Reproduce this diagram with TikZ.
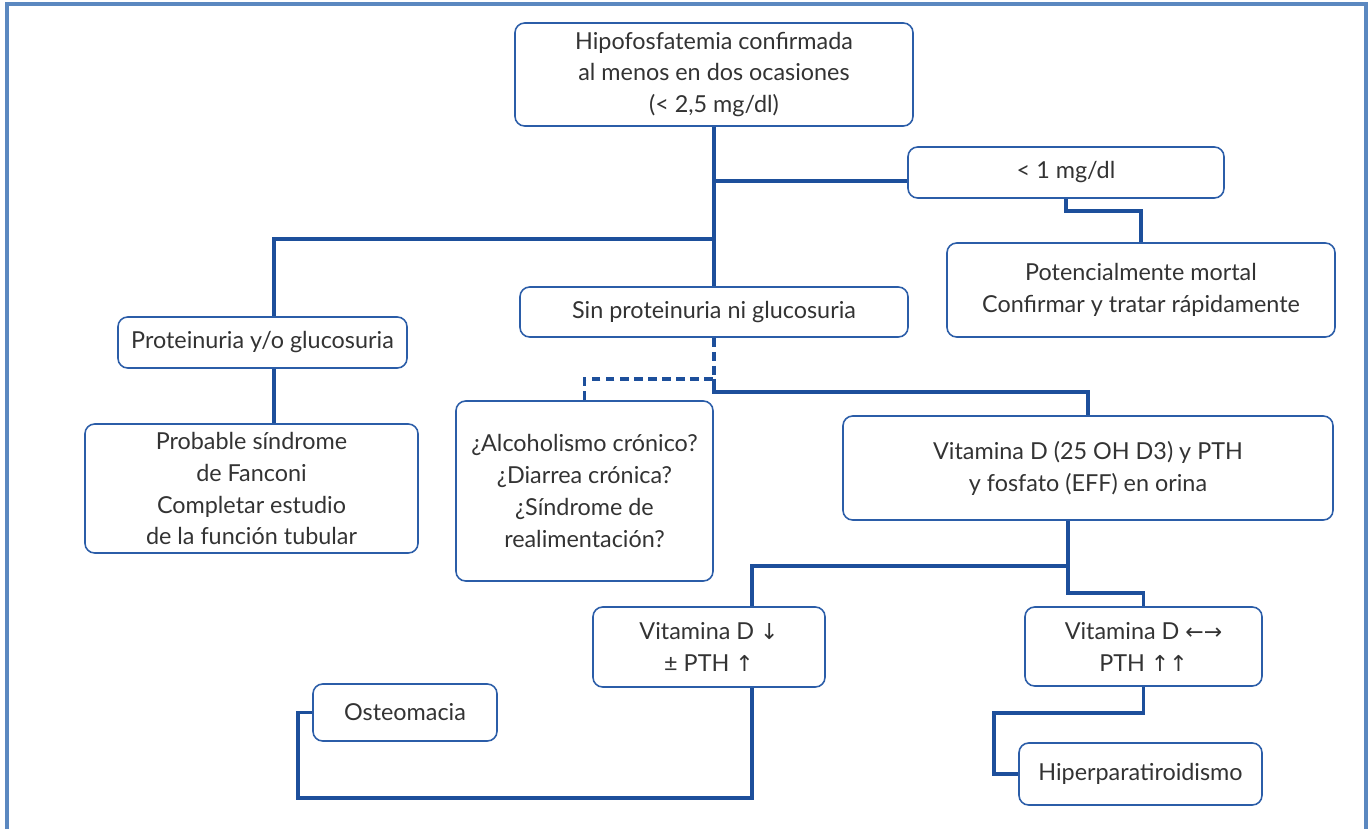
\documentclass[tikz,border=0pt]{standalone}
\usepackage{fontspec}
\setmainfont{Lato}
\newfontfamily\arrowfont{DejaVu Sans}
\usetikzlibrary{positioning,calc}
\definecolor{lineblue}{HTML}{1D4F9B}
\definecolor{boxblue}{HTML}{2B5DA8}
\definecolor{frameblue}{HTML}{5B88C0}
\definecolor{textgray}{HTML}{333333}
\newdimen\px \px=0.02cm
\newcommand{\ar}[1]{{\arrowfont\fontsize{12.5}{14}\selectfont #1}}

\begin{document}
\begin{tikzpicture}
  [x=0.02cm,y=-0.02cm,
   font=\fontsize{13.3}{18.2}\selectfont,
   boxN/.style={draw=boxblue,line width=0.9pt,rounded corners=5.5pt,
                align=center,text=textgray,inner sep=2pt},
   lineN/.style={draw=lineblue,line width=2pt},
   dashN/.style={lineN,dash pattern=on 5pt off 3pt},
   frameN/.style={draw=frameblue,line width=2pt},
  ]
 \useasboundingbox (0,0) rectangle (1370,829);
 \draw[frameN] (7,829) -- (7,4) -- (1366,4) -- (1366,829);

 \node[boxN,minimum width=398\px,minimum height=103\px] (top) at (714,74.5)
   {Hipofosfatemia confirmada\\al menos en dos ocasiones\\(< 2,5 mg/dl)};
 \node[boxN,minimum width=316\px,minimum height=51\px] (lt1) at (1066,172.5) {< 1 mg/dl};
 \node[boxN,minimum width=388\px,minimum height=94\px] (mortal) at (1141,290)
   {Potencialmente mortal\\Confirmar y tratar rápidamente};
 \node[boxN,minimum width=388\px,minimum height=50\px] (sinP) at (714,312) {Sin proteinuria ni glucosuria};
 \node[boxN,minimum width=289\px,minimum height=51\px] (conP) at (262.5,342.5) {Proteinuria y/o glucosuria};
 \node[boxN,minimum width=333\px,minimum height=129\px] (fanconi) at (251.5,488.5)
   {Probable síndrome\\de Fanconi\\Completar estudio\\de la función tubular};
 \node[boxN,minimum width=257\px,minimum height=180\px] (alcohol) at (584.5,491)
   {¿Alcoholismo crónico?\\¿Diarrea crónica?\\¿Síndrome de\\realimentación?};
 \node[boxN,minimum width=490\px,minimum height=104\px] (vitD) at (1088,468)
   {Vitamina D (25 OH D3) y PTH\\y fosfato (EFF) en orina};
 \node[boxN,minimum width=232\px,minimum height=80\px] (vitDdown) at (709,647)
   {Vitamina D \ar{↓}\\± PTH \ar{↑}};
 \node[boxN,minimum width=237\px,minimum height=79\px] (vitDeq) at (1143.5,646.5)
   {Vitamina D \ar{←→}\\PTH \ar{↑↑}};
 \node[boxN,minimum width=184\px,minimum height=57\px] (osteo) at (405,712.5) {Osteomacia};
 \node[boxN,minimum width=243\px,minimum height=62\px] (hiper) at (1140.5,774) {Hiperparatiroidismo};

 \coordinate (jR) at (714,181);
 \coordinate (jL) at (274,239);
 \coordinate (jV) at (1068,566);
 \coordinate (jD) at (752,566);
 \coordinate (jO) at (298,798);
 \coordinate (jH) at (994,713);

 \draw[dashN] (sinP.south) -- ++(0,41) -| (alcohol.north);
 \draw[lineN] (top.south) -- (sinP.north);
 \draw[lineN] (jR) -- (lt1.west |- jR);
 \draw[lineN] (top.south |- jL) -- (jL) -- (conP.north -| jL);
 \draw[lineN] (lt1.south) -- ++(0,12) -| (mortal.north);
 \draw[lineN] (conP.south -| jL) -- (fanconi.north -| jL);
 \draw[lineN] ($(sinP.south)+(0,41)$) -- ++(0,13) -| (vitD.north);
 \draw[lineN] (vitD.south -| jV) -- (jV) -- (jD) -- (vitDdown.north -| jD);
 \draw[lineN] (jV) -- ++(0,27) -| (vitDeq.north);
 \draw[lineN] (vitDdown.south -| jD) |- (jO) |- (osteo.west);
 \draw[lineN] (vitDeq.south) |- (jH) |- (hiper.west);
\end{tikzpicture}
\end{document}
